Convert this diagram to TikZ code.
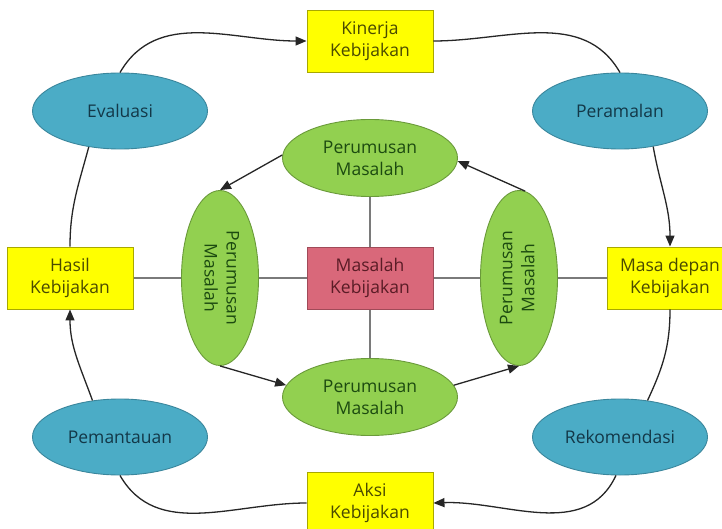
\documentclass[tikz,border=0pt]{standalone}
\usepackage{fontspec}
\setmainfont{Open Sans}
\usetikzlibrary{shapes.geometric,arrows.meta}

% colours of the four node families
\definecolor{boxfill}{HTML}{FFFF00}
\definecolor{boxline}{HTML}{A8A800}
\definecolor{boxtext}{HTML}{4A4A00}
\definecolor{corefill}{HTML}{D9687A}
\definecolor{coreline}{HTML}{A04A58}
\definecolor{coretext}{HTML}{5A1C26}
\definecolor{leaffill}{HTML}{92D050}
\definecolor{leafline}{HTML}{6A9A3A}
\definecolor{leaftext}{HTML}{1C4A10}
\definecolor{stagefill}{HTML}{4BACC6}
\definecolor{stageline}{HTML}{3A869C}
\definecolor{stagetext}{HTML}{133848}
\definecolor{linkgrey}{HTML}{7A7A7A}

\newcommand\twolines[2]{\begin{tabular}{@{}c@{}}#1\\#2\end{tabular}}

\tikzset{
  every node/.style={font=\fontsize{17.5}{22}\selectfont, inner sep=0pt},
  policybox/.style={rectangle, draw=boxline, fill=boxfill, text=boxtext,
    line width=0.9pt, minimum width=126pt, minimum height=62pt, align=center},
  corebox/.style={rectangle, draw=coreline, fill=corefill, text=coretext,
    line width=0.9pt, minimum width=126pt, minimum height=62pt, align=center},
  stage/.style={ellipse, draw=stageline, fill=stagefill, text=stagetext,
    line width=0.9pt, minimum width=175pt, minimum height=76pt},
  leafh/.style={ellipse, draw=leafline, fill=leaffill, text=leaftext,
    line width=0.9pt, minimum width=175pt, minimum height=77pt, align=center},
  leafv/.style={ellipse, draw=leafline, fill=leaffill, text=leaftext,
    line width=0.9pt, minimum width=77pt, minimum height=175pt},
  flow/.style={draw=black!85, line width=1.3pt,
    -{Triangle[length=11pt,width=9pt]}},
  plain/.style={draw=black!85, line width=1.3pt},
  link/.style={draw=linkgrey, line width=1.6pt},
}

\begin{document}
\begin{tikzpicture}[x=1pt,y=-1pt]
\useasboundingbox (0,0) rectangle (722,529);
\clip (0,0) rectangle (722,529);
\fill[white] (0,0) rectangle (722,529);

% grey spokes behind the nodes
\coordinate (spokeL) at (70,278);
\coordinate (spokeR) at (670,278);
\draw[link] (spokeL) -- (spokeR);
\draw[link] (370,158) -- (370,397);

% outer cycle
\node[policybox] (kin) at (370,41) {Kinerja\\Kebijakan};
\node[policybox] (has) at (70,278) {Hasil\\Kebijakan};
\node[policybox] (mas) at (670,278) {Masa depan\\Kebijakan};
\node[policybox] (aks) at (370,503) {Aksi\\Kebijakan};

\node[stage] (eva) at (120,111) {Evaluasi};
\node[stage] (per) at (620,111) {Peramalan};
\node[stage] (pem) at (120,437) {Pemantauan};
\node[stage] (rek) at (620,437) {Rekomendasi};

% inner cycle
\node[corebox] (core) at (370,278) {Masalah\\Kebijakan};
\node[leafh] (ptop) at (370,158) {Perumusan\\Masalah};
\node[leafh] (pbot) at (370,397) {Perumusan\\Masalah};
\node[leafv] (pleft) at (220,278) {\rotatebox{-90}{\twolines{Perumusan}{Masalah}}};
\node[leafv] (pright) at (519,278) {\rotatebox{90}{\twolines{Perumusan}{Masalah}}};

% outer connectors
\draw[flow] (eva.north) to[out=60,in=180] (kin.west);
\draw[plain] (kin.east) to[out=0,in=120] (per.north);
\draw[flow] (per.-47) to[out=-80,in=90] (mas.north);
\draw[plain] (mas.south) to[out=-90,in=65] (rek.53);
\draw[flow] (rek.-96) to[out=-115,in=2] (aks.east);
\draw[plain] (aks.west) to[out=180,in=-60] (pem.south);
\draw[flow] (pem.127) to[out=110,in=-90] (has.south);
\draw[plain] (has.north) to[out=90,in=-105] (eva.-131);

% inner connectors
\draw[flow] (ptop.178) -- (pleft.north);
\draw[flow] (pleft.south) -- (pbot.172);
\draw[flow] (pbot.8) -- (pright.south);
\draw[flow] (pright.86) -- (ptop.-2);
\end{tikzpicture}
\end{document}
